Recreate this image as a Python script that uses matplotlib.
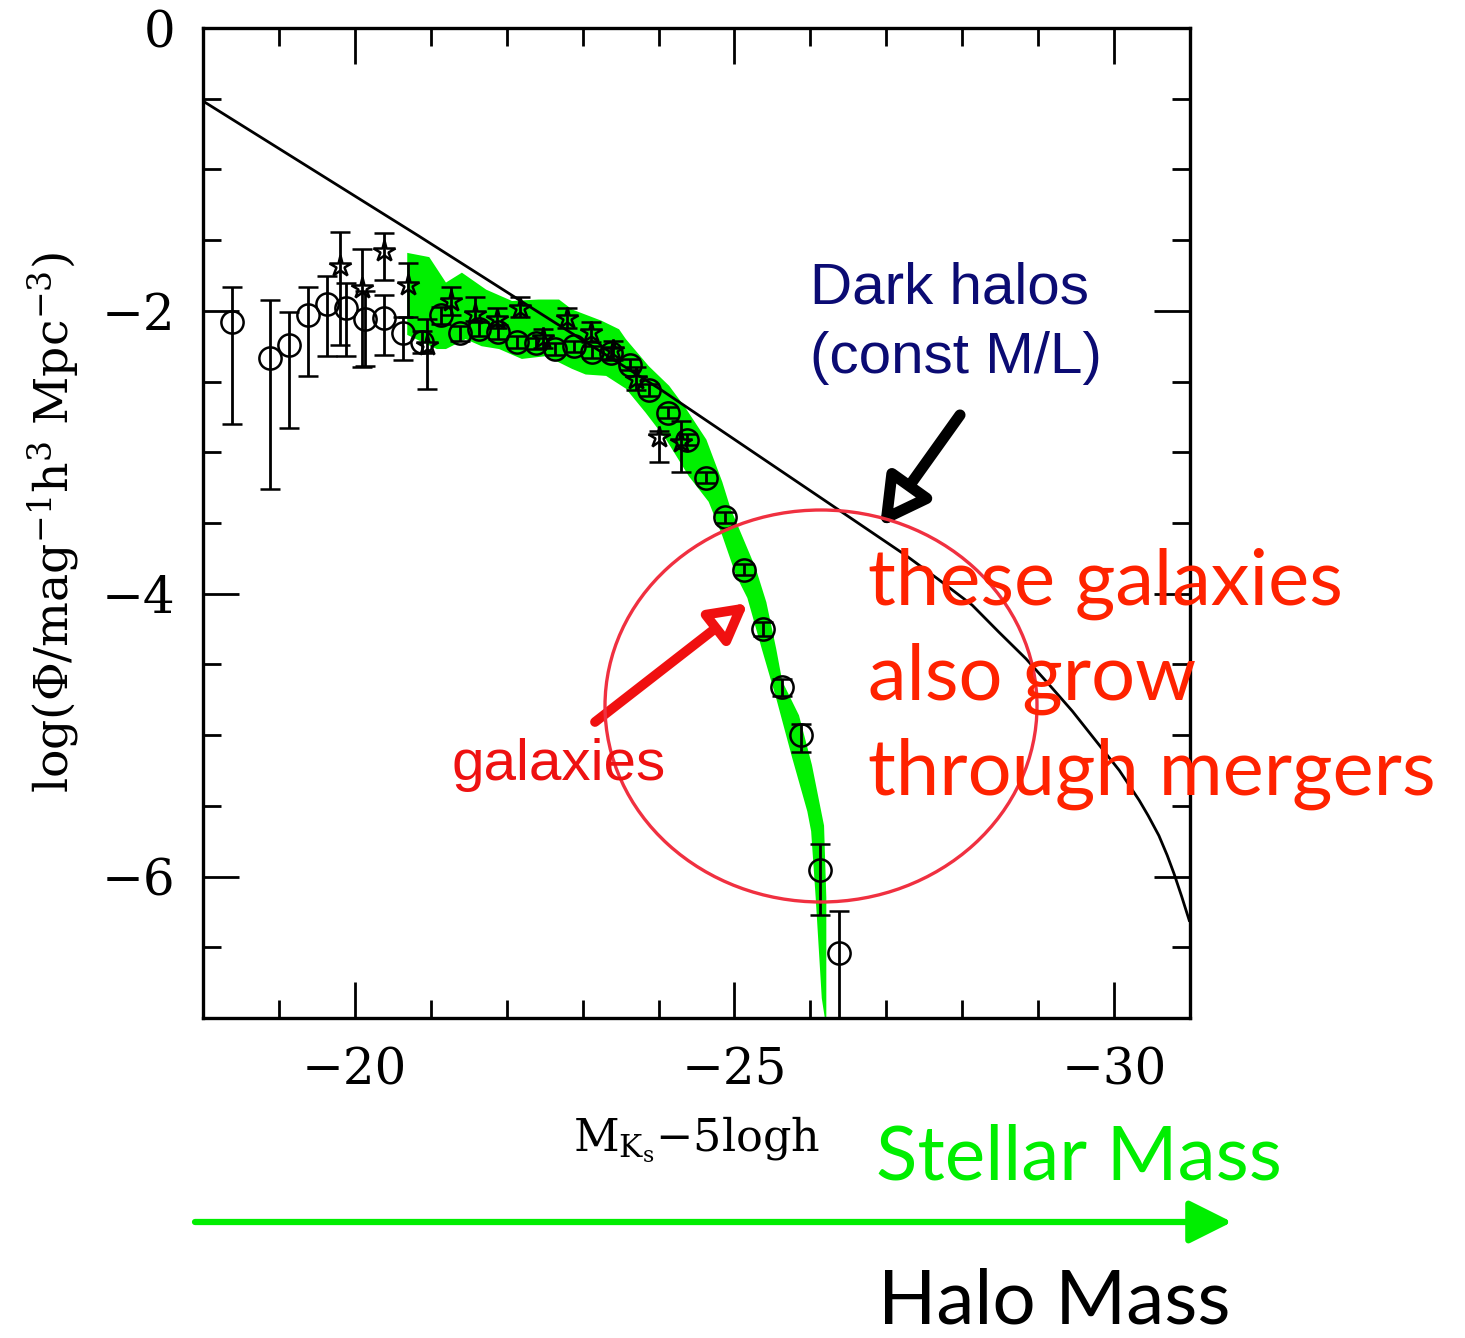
import numpy as np
import matplotlib
matplotlib.use("Agg")
import matplotlib.pyplot as plt
from matplotlib.patches import Ellipse

plt.rcParams['mathtext.fontset'] = 'dejavuserif'

## Data
# open circles (with error bars)
circ_x = [-18.38, -18.88, -19.13, -19.38, -19.63, -19.88, -20.13, -20.38, -20.63, -20.88,
          -21.13, -21.38, -21.63, -21.88, -22.13, -22.38, -22.63, -22.88, -23.13, -23.38,
          -23.63, -23.88, -24.13, -24.38, -24.63, -24.88, -25.13, -25.38, -25.63, -25.88,
          -26.13, -26.38]
circ_y = [-2.08, -2.33, -2.24, -2.03, -1.95, -1.98, -2.06, -2.05, -2.16, -2.22,
          -2.03, -2.16, -2.13, -2.15, -2.22, -2.23, -2.27, -2.25, -2.29, -2.30,
          -2.38, -2.56, -2.72, -2.91, -3.18, -3.46, -3.83, -4.25, -4.66, -5.00,
          -5.95, -6.54]
circ_up = [0.25, 0.41, 0.23, 0.20, 0.20, 0.18, 0.20, 0.16, 0.12, 0.08,
           0.06, 0.05, 0.05, 0.05, 0.04, 0.04, 0.04, 0.04, 0.04, 0.04,
           0.04, 0.04, 0.04, 0.04, 0.04, 0.04, 0.04, 0.05, 0.06, 0.08,
           0.18, 0.30]
circ_dn = [0.72, 0.93, 0.59, 0.43, 0.37, 0.34, 0.33, 0.26, 0.19, 0.08,
           0.06, 0.05, 0.05, 0.05, 0.04, 0.04, 0.04, 0.04, 0.04, 0.04,
           0.04, 0.04, 0.04, 0.04, 0.04, 0.04, 0.04, 0.05, 0.06, 0.12,
           0.32, 0.60]

# open stars (with error bars)
star_x = [-19.80, -20.10, -20.39, -20.70, -20.95, -21.26, -21.58, -21.87, -22.18, -22.48,
          -22.80, -23.11, -23.40, -23.70, -24.00, -24.29]
star_y = [-1.68, -1.84, -1.58, -1.82, -2.24, -1.93, -2.02, -2.06, -1.98, -2.19,
          -2.05, -2.15, -2.28, -2.48, -2.89, -2.93]
star_up = [0.24, 0.28, 0.13, 0.16, 0.18, 0.10, 0.12, 0.08, 0.08, 0.06,
           0.07, 0.07, 0.07, 0.08, 0.04, 0.15]
star_dn = [0.56, 0.56, 0.20, 0.22, 0.31, 0.10, 0.05, 0.06, 0.06, 0.07,
           0.07, 0.07, 0.07, 0.08, 0.18, 0.21]

# green band: upper edge (left to right), lower edge (right to left)
band_up_x = [-20.69, -20.98, -21.20, -21.41, -21.73, -22.07, -22.42, -22.69, -22.86, -23.25,
             -23.48, -23.57, -23.87, -24.14, -24.36, -24.63, -24.84, -24.95, -25.10, -25.28,
             -25.42, -25.55, -25.63, -25.85, -26.02, -26.18, -26.21, -26.21]
band_up_y = [-1.59, -1.62, -1.80, -1.73, -1.85, -1.93, -1.92, -1.92, -1.99, -2.07,
             -2.13, -2.20, -2.39, -2.53, -2.69, -2.91, -3.21, -3.40, -3.59, -3.82,
             -4.06, -4.39, -4.62, -4.86, -5.21, -5.64, -6.15, -7.00]
band_lo_x = [-26.19, -26.15, -26.07, -26.01, -25.96, -25.76, -25.55, -25.36, -25.17, -25.02,
             -24.84, -24.66, -24.40, -24.10, -23.83, -23.57, -23.31, -23.04, -22.86, -22.52,
             -22.20, -21.90, -21.67, -21.46, -21.20, -21.08, -20.69]
band_lo_y = [-7.00, -6.86, -6.15, -5.68, -5.54, -5.16, -4.74, -4.39, -4.03, -3.87,
             -3.59, -3.35, -3.17, -2.91, -2.72, -2.55, -2.46, -2.45, -2.41, -2.32,
             -2.34, -2.27, -2.25, -2.20, -2.27, -2.27, -2.17]

# dark halo mass function (const M/L)
halo_x = [-17.98, -20.84, -22.42, -24.01, -26.38, -27.26, -27.69, -28.13, -28.48, -28.84,
          -29.14, -29.45, -29.76, -30.07, -30.33, -30.45, -30.59, -30.70, -30.79, -30.89,
          -30.99]
halo_y = [-0.51, -1.47, -2.01, -2.55, -3.41, -3.73, -3.90, -4.08, -4.27, -4.46,
          -4.64, -4.83, -5.04, -5.25, -5.46, -5.57, -5.71, -5.85, -5.98, -6.14,
          -6.31]

W, H = 1465, 1338


def fp(x, y):
    # pixel position (from top-left) -> figure fraction
    return x / W, 1 - y / H


def main():
    fig = plt.figure(figsize=(W / 100, H / 100), dpi=100)
    ax = fig.add_axes([203 / W, 1 - 1018 / H, (1190 - 203) / W, (1018 - 28) / H])

    # green band
    ax.fill(band_up_x + band_lo_x, band_up_y + band_lo_y, color='#00F000', lw=0, zorder=1)

    # halo line
    ax.plot(halo_x, halo_y, color='black', lw=2, zorder=2)

    # data
    ax.errorbar(circ_x, circ_y, yerr=[circ_dn, circ_up], fmt='o', ms=16, mfc='none',
                mec='black', mew=1.8, ecolor='black', elinewidth=2, capsize=7,
                capthick=2, zorder=3)
    ax.errorbar(star_x, star_y, yerr=[star_dn, star_up], fmt='*', ms=16, mfc='none',
                mec='black', mew=1.8, ecolor='black', elinewidth=2, capsize=7,
                capthick=2, zorder=3)

    # axes
    ax.set_xlim(-18, -31)
    ax.set_ylim(-7, 0)
    ax.set_xticks([-20, -25, -30])
    ax.set_xticks(np.arange(-18, -32, -1), minor=True)
    ax.set_yticks([0, -2, -4, -6])
    ax.set_yticks(np.arange(0, -7.5, -0.5), minor=True)
    ax.tick_params(which='both', direction='in', top=True, right=True, width=2)
    ax.tick_params(which='major', length=26)
    ax.tick_params(which='minor', length=13)
    ax.tick_params(axis='x', pad=20)
    ax.tick_params(axis='y', pad=20)
    for lab in ax.get_xticklabels() + ax.get_yticklabels():
        lab.set_family('DejaVu Serif')
        lab.set_fontsize(36)
    for sp in ax.spines.values():
        sp.set_linewidth(2.4)

    ax.set_xlabel(r'M$_{\mathrm{K_s}}$$-$5logh', family='DejaVu Serif', fontsize=32,
                  labelpad=14)
    ax.set_ylabel(r'log($\Phi$/mag$^{-1}$h$^{3}$ Mpc$^{-3}$)', family='DejaVu Serif',
                  fontsize=34, labelpad=14)

    # annotations
    fig.text(*fp(810, 303), 'Dark halos', family='Liberation Sans', fontsize=42,
             color='#0B0B73', va='baseline')
    fig.text(*fp(810, 373), '(const M/L)', family='Liberation Sans', fontsize=42,
             color='#0B0B73', va='baseline')
    ax.annotate('', xy=(880, H - 527), xytext=(960, H - 415), xycoords='figure pixels',
                textcoords='figure pixels',
                arrowprops=dict(arrowstyle='-|>,head_length=1.0,head_width=0.55',
                                mutation_scale=28, lw=8, ec='black', fc='white',
                                shrinkA=0, shrinkB=0))

    ax.annotate('', xy=(748, H - 603), xytext=(595, H - 722), xycoords='figure pixels',
                textcoords='figure pixels',
                arrowprops=dict(arrowstyle='-|>,head_length=1.0,head_width=0.55',
                                mutation_scale=22, lw=7, ec='#F01010', fc='white',
                                shrinkA=0, shrinkB=0))
    fig.text(*fp(452, 780), 'galaxies', family='Liberation Sans', fontsize=42,
             color='#EE1111', va='baseline')

    fig.add_artist(Ellipse(fp(821, 706), 432 / W, 392 / H, transform=fig.transFigure,
                           fill=False, ec='#F03040', lw=2.4))

    for txt, yb in [('these galaxies', 605), ('also grow', 700), ('through mergers', 795)]:
        fig.text(*fp(868, yb), txt, family='Lato', fontsize=56, color='#FF2200',
                 va='baseline')

    fig.text(*fp(876, 1180), 'Stellar Mass', family='Lato', fontsize=55,
             color='#00EE00', va='baseline')
    ax.annotate('', xy=(1232, H - 1222), xytext=(195, H - 1222), xycoords='figure pixels',
                textcoords='figure pixels',
                arrowprops=dict(arrowstyle='-|>,head_length=1.2,head_width=0.6',
                                mutation_scale=22, lw=4.5, color='#00EE00',
                                shrinkA=0, shrinkB=0))
    fig.text(*fp(878, 1324), 'Halo Mass', family='Lato', fontsize=55,
             color='black', va='baseline')

    fig.savefig('out.png', dpi=100)


if __name__ == "__main__":
    main()
